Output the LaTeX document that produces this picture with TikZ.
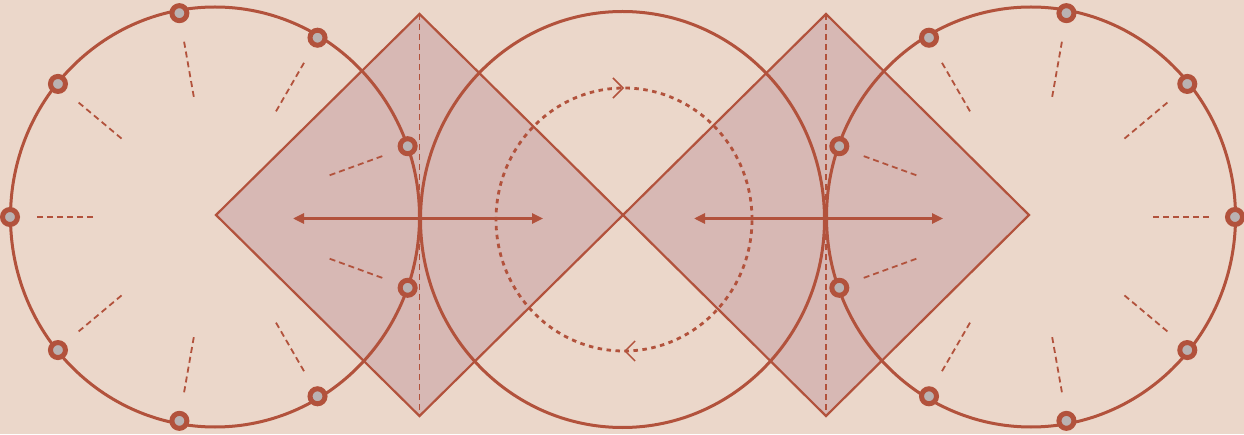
\documentclass[tikz,border=0pt]{standalone}
\usetikzlibrary{arrows.meta,decorations.markings}
\definecolor{fondo}{HTML}{EBD7CA}
\definecolor{ladrillo}{HTML}{B2523C}
\definecolor{rombo}{HTML}{D7B8B4}
\definecolor{gris}{HTML}{BAB2B2}
\begin{document}
\begin{tikzpicture}[x=1pt, y=1pt,
    borde/.style={draw=ladrillo, line width=3pt},
    lado/.style={draw=ladrillo, fill=rombo, line width=2.2pt},
    eje/.style={draw=ladrillo, line width=1.8pt, dash pattern=on 6pt off 4pt},
    radio/.style={draw=ladrillo, line width=1.8pt, dash pattern=on 6pt off 4pt},
    punto/.style={circle, draw=ladrillo, fill=gris, line width=5pt, minimum size=15pt, inner sep=0pt},
    flecha/.style={draw=ladrillo, line width=2.6pt,
        {Triangle[length=11pt,width=10pt]}-{Triangle[length=11pt,width=10pt]}},
    giro/.style={draw=ladrillo, line width=2.8pt, dash pattern=on 4.5pt off 4.5pt,
        postaction={decorate}, decoration={markings,
        mark=at position 0.25 with {\arrowreversed[ladrillo]{Straight Barb[length=10pt,width=20pt,line width=1.5pt]}},
        mark=at position 0.75 with {\arrowreversed[ladrillo]{Straight Barb[length=10pt,width=20pt,line width=1.5pt]}}}}]

    % Fondo
    \fill[fondo] (0,0) rectangle (1244,434);
    \useasboundingbox (0,0) rectangle (1244,434);

    % Centros
    \coordinate (lc) at (215,217);
    \coordinate (mc) at (622.5,214.5);
    \coordinate (rc) at (1031,217);

    % Rombos
    \coordinate (la) at (419.5,420);
    \coordinate (li) at (216,219);
    \coordinate (lb) at (419.5,18);
    \coordinate (lm) at (623,219);
    \coordinate (ra) at (826,420);
    \coordinate (rb) at (826,18);
    \coordinate (rd) at (1029,219);
    \draw[lado] (la) -- (li) -- (lb) -- (lm) -- cycle;
    \draw[lado] (ra) -- (lm) -- (rb) -- (rd) -- cycle;

    % Circunferencias
    \draw[borde] (lc) ellipse [x radius=204.5pt, y radius=210pt];
    \draw[borde] (mc) ellipse [x radius=202pt, y radius=208pt];
    \draw[borde] (rc) ellipse [x radius=204.5pt, y radius=210pt];

    % Giro punteado
    \draw[giro] (624,214.5) ellipse [x radius=128pt, y radius=131.5pt];

    % Ejes de los rombos
    \draw[eje] (la) -- (lb);
    \draw[eje] (ra) -- (rb);

    % Marcas radiales
    \foreach \a in {20,60,...,340}
        \draw[radio] ([shift={(\a:122)}]lc) -- ([shift={(\a:181)}]lc);
    \foreach \a in {0,40,...,320}
        \draw[radio] ([shift={(\a:122)}]rc) -- ([shift={(\a:181)}]rc);

    % Flechas
    \coordinate (f1) at (293,215.5);
    \coordinate (f2) at (543,215.5);
    \coordinate (f3) at (694,215.5);
    \coordinate (f4) at (943,215.5);
    \draw[flecha] (f1) -- (f2);
    \draw[flecha] (f3) -- (f4);

    % Puntos sobre las circunferencias
    \foreach \a [count=\i] in {20,60,...,340}
        \node[punto] (lp\i) at ([shift={(\a:205 and 207)}]lc) {};
    \foreach \a [count=\i] in {0,40,...,320}
        \node[punto] (rp\i) at ([shift={(\a:204 and 207)}]rc) {};
\end{tikzpicture}
\end{document}
